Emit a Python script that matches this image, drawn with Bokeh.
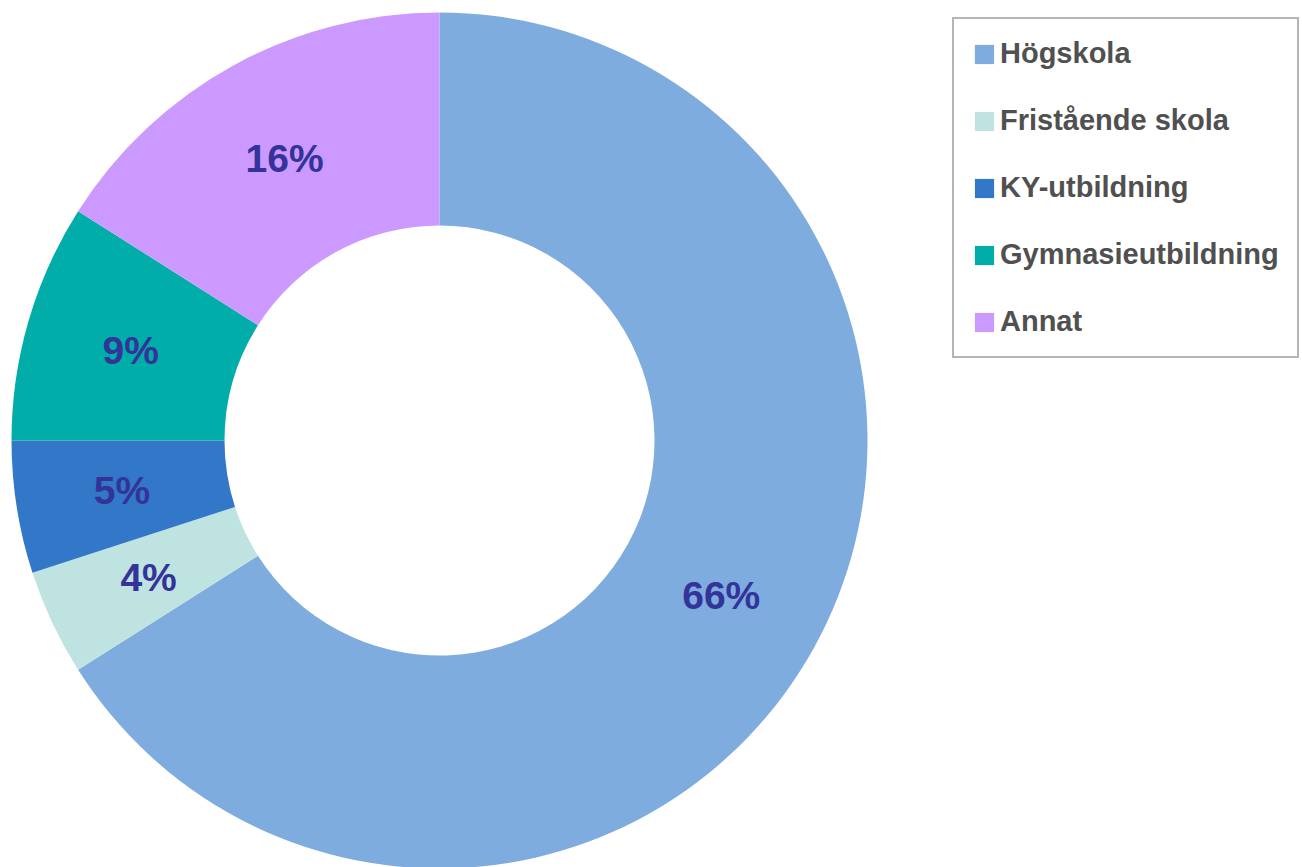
import numpy as np
from bokeh.plotting import figure
from bokeh.models import Range1d, ColumnDataSource, Legend, LegendItem
from bokeh.core.properties import value
from bokeh.embed import file_html
from bokeh.resources import INLINE

categories = ["Högskola", "Fristående skola", "KY-utbildning", "Gymnasieutbildning", "Annat"]
shares = [66, 4, 5, 9, 16]
colors = ["#7FACDF", "#BFE3E1", "#3378C8", "#00ADA8", "#CC99FF"]

W, H = 1302, 867
cx, cy = 439, H - 440
r_out, r_in = 428, 215

frac = np.array(shares, dtype=float) / sum(shares)
cum_end = np.cumsum(frac)
cum_start = cum_end - frac
start = np.pi / 2 - 2 * np.pi * cum_start
end = np.pi / 2 - 2 * np.pi * cum_end
mid = (start + end) / 2
r_mid = (r_out + r_in) / 2

src = ColumnDataSource(dict(
    cat=categories, start=start, end=end, color=colors,
    lx=cx + r_mid * np.cos(mid), ly=cy + r_mid * np.sin(mid),
    lab=[f"{s}%" for s in shares],
))

p = figure(width=W, height=H, output_backend="svg", toolbar_location=None,
           x_range=Range1d(0, W), y_range=Range1d(0, H), min_border=0)
p.axis.visible = False
p.grid.visible = False
p.outline_line_color = None
p.background_fill_color = "white"

wedges = p.annular_wedge(x=cx, y=cy, inner_radius=r_in, outer_radius=r_out,
                         start_angle="start", end_angle="end", direction="clock",
                         fill_color="color", line_color=None, source=src)

p.text(x="lx", y="ly", text="lab", source=src, text_align="center", text_baseline="middle",
       text_font=value("Liberation Sans"), text_font_style="bold", text_font_size="39px",
       text_color="#333399")

items = [LegendItem(label=c, renderers=[wedges], index=i) for i, c in enumerate(categories)]
legend = Legend(items=items, location=(952, 509), orientation="vertical",
                label_text_font="Liberation Sans", label_text_font_style="bold",
                label_text_font_size="29px", label_text_color="#505050",
                glyph_width=24, glyph_height=24, label_standoff=4,
                label_height=32, spacing=34, padding=18, margin=0,
                border_line_color="#6b6b6b", border_line_width=2,
                background_fill_color="white", background_fill_alpha=1.0)
p.add_layout(legend, "center")

open("out.html", "w").write(file_html(p, INLINE))
